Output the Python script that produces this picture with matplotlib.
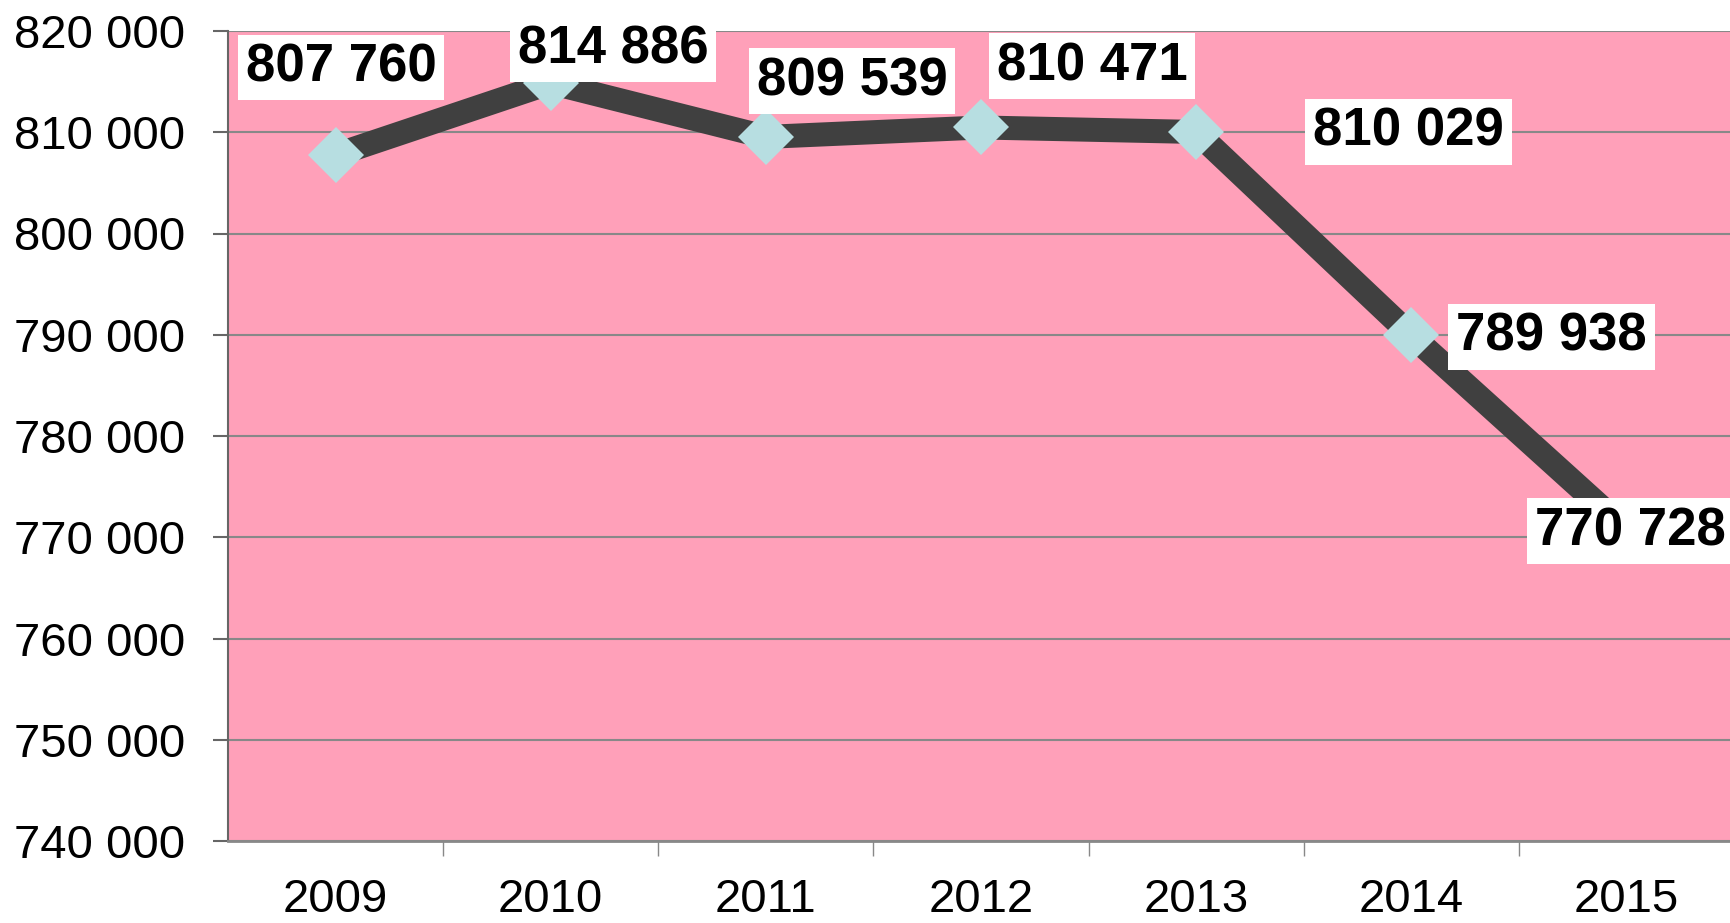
import matplotlib
matplotlib.use("Agg")
import matplotlib.pyplot as plt
from matplotlib.ticker import FixedLocator, FuncFormatter

plt.rcParams['font.family'] = ['Liberation Sans', 'DejaVu Sans']

years = ["2009", "2010", "2011", "2012", "2013", "2014", "2015"]
values = [807760, 814886, 809539, 810471, 810029, 789938, 770728]
label_texts = ["807 760", "814 886", "809 539", "810 471", "810 029", "789 938", "770 728"]
yticks = [740000, 750000, 760000, 770000, 780000, 790000, 800000, 810000, 820000]

# label offsets (points) from each point, as placed in the reference
offsets = [(4, 63), (45, 24), (62, 40), (80, 44), (153, 0), (101, -1), (3, -1)]

pink = "#FFA0B9"
grid_gray = "#888888"

fig = plt.figure(figsize=(17.31, 9.23), dpi=100)
ax = fig.add_axes([228 / 1731, 1 - 841 / 923, 1506 / 1731, 810 / 923])
ax.set_facecolor(pink)

x = list(range(len(years)))
ax.plot(x, values, color="#404040", linewidth=17.3, solid_joinstyle="miter",
        zorder=3, clip_on=False)
ax.plot(x, values, linestyle="none", marker="D", markersize=29,
        markerfacecolor="#B7DEE1", markeredgewidth=0, zorder=4, clip_on=False)

for xi, v, t, off in zip(x, values, label_texts, offsets):
    ax.annotate(t, (xi, v), xytext=off, textcoords="offset points",
                ha="center", va="center", fontsize=38, fontweight="bold",
                color="black", zorder=6, annotation_clip=False,
                bbox=dict(boxstyle="square,pad=0.15", fc="white", ec="none"))

ax.set_xlim(-0.5, len(years) - 0.5)
ax.set_ylim(740000, 820000)

ax.yaxis.set_major_locator(FixedLocator(yticks))
ax.yaxis.set_major_formatter(FuncFormatter(lambda v, p: f"{int(v):,}".replace(",", " ")))
ax.grid(axis="y", color=grid_gray, linewidth=1.5, zorder=1)
ax.set_axisbelow(True)

ax.set_xticks(x)
ax.set_xticklabels(years)
ax.set_xticks([i - 0.5 for i in range(1, len(years) + 1)], minor=True)
ax.tick_params(axis="x", which="major", length=0, pad=27, labelsize=34)
ax.tick_params(axis="x", which="minor", length=11, width=1, color=grid_gray, direction="out")
ax.tick_params(axis="y", length=11, width=1.5, color="#666666", pad=20, labelsize=34)

for s in ["top", "right"]:
    ax.spines[s].set_visible(False)
ax.spines["left"].set_color("#666666")
ax.spines["left"].set_linewidth(1.5)
ax.spines["bottom"].set_color(grid_gray)
ax.spines["bottom"].set_linewidth(2)

fig.savefig("out.png", dpi=100)
